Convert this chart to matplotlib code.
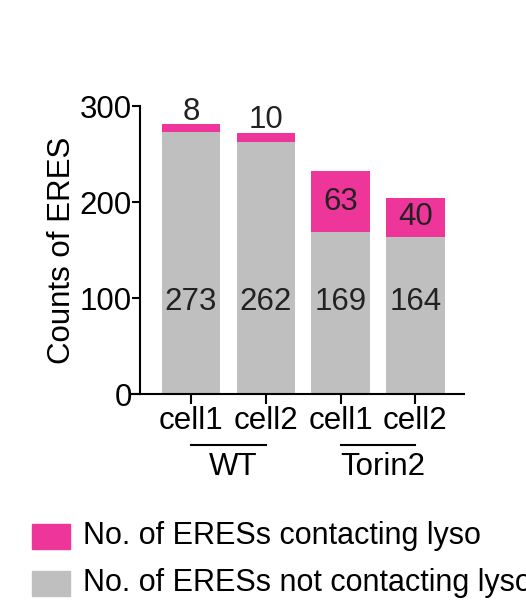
import matplotlib.pyplot as plt
from matplotlib.patches import Rectangle

plt.rcParams['font.family'] = ['Liberation Sans', 'DejaVu Sans']

# data
cells = ['cell1', 'cell2', 'cell1', 'cell2']
groups = ['WT', 'Torin2']
not_contacting = [273, 262, 169, 164]
contacting = [8, 10, 63, 40]
legend_labels = ['No. of ERESs contacting lyso', 'No. of ERESs not contacting lyso']

pink = '#EE3599'
gray = '#C0BFBF'
fs = 22.5

fig = plt.figure(figsize=(5.26, 6.05), dpi=100)
W, H = 526, 605
# axes box in pixels: x from spine (140) to 464, y from 394 (0) to 106 (300)
ax = fig.add_axes([140 / W, 1 - 394 / H, (464 - 140) / W, (394 - 106) / H])

x = range(len(cells))
ax.bar(x, not_contacting, width=0.78, color=gray)
ax.bar(x, contacting, width=0.78, bottom=not_contacting, color=pink)

for i in x:
    ax.text(i, 96, str(not_contacting[i]), ha='center', va='center',
            fontsize=fs, color='#222222')
    top = not_contacting[i] + contacting[i]
    if contacting[i] < 25:
        ax.text(i, top + 13, str(contacting[i]), ha='center', va='center',
                fontsize=fs, color='#222222')
    else:
        ax.text(i, not_contacting[i] + contacting[i] / 2, str(contacting[i]),
                ha='center', va='center', fontsize=fs, color='#222222')

ax.set_xlim(-0.68, 3.65)
ax.set_ylim(0, 300)
ax.set_yticks([0, 100, 200, 300])
ax.set_xticks(list(x))
ax.set_xticklabels(cells)
ax.tick_params(axis='y', length=6, width=1.5, labelsize=fs, pad=0)
ax.tick_params(axis='x', length=7.5, width=1.5, labelsize=fs, pad=1)
for s in ['top', 'right']:
    ax.spines[s].set_visible(False)
ax.spines['left'].set_linewidth(1.5)
ax.spines['bottom'].set_linewidth(1.5)
ax.spines['bottom'].set_bounds(-0.79, 3.65)
ax.set_ylabel('Counts of ERES', fontsize=fs, labelpad=2)

# group lines and labels
for g, name in enumerate(groups):
    a, b = 2 * g, 2 * g + 1
    ax.plot([a, b], [-53, -53], color='black', lw=1.5, clip_on=False)
    ax.text((a + b) / 2 + 0.06, -76, name,
            ha='center', va='center', fontsize=fs)

# legend
for k, (lab, col) in enumerate(zip(legend_labels, [pink, gray])):
    yc = 536 + 47 * k
    fig.patches.append(Rectangle((32 / W, 1 - (yc + 12.5) / H), 38 / W, 25 / H,
                                 transform=fig.transFigure, color=col))
    fig.text(83 / W, 1 - yc / H, lab, fontsize=22, va='center', ha='left')

fig.savefig('out.png', dpi=100)
